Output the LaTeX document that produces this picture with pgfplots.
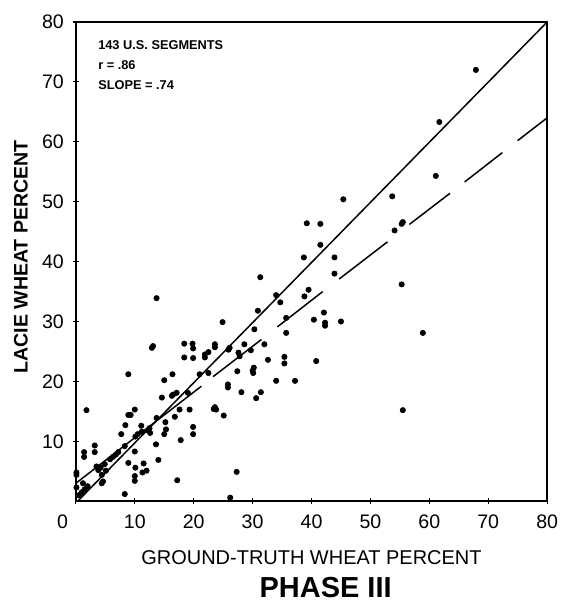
\documentclass[border=0pt]{standalone}
\usepackage{fontspec}
\setmainfont{Liberation Sans}
\usepackage{pgfplots}
\pgfplotsset{compat=1.18}
\begin{document}
\begin{tikzpicture}
\begin{axis}[
  scale only axis, width=236pt, height=240pt,
  xmin=0, xmax=80, ymin=0, ymax=80,
  xtick={0,10,...,80},
  xticklabels={{\makebox[0pt][r]{0\hspace{4pt}}},10,20,30,40,50,60,70,80},
  ytick={10,20,...,80},
  xtick pos=bottom, ytick pos=left,
  tick align=center, major tick length=3pt,
  /pgf/number format/assume math mode=true,
  tick label style={font=\fontsize{9.8}{11}\selectfont},
  xticklabel style={yshift=-2pt},
  yticklabel style={xshift=-1pt},
  axis line style={line width=1pt},
  every tick/.style={black, line width=0.6pt},
  clip=false,
]
% 1:1 line
\addplot[black, line width=0.75pt] coordinates {(0.3,0) (80,80)};
% regression line (broken dashes)
\addplot[black, line width=0.75pt] coordinates {(0,3.0) (21.3,19.2)};
\addplot[black, line width=0.75pt] coordinates {(23.3,20.8) (31.5,27.0)};
\addplot[black, line width=0.75pt] coordinates {(34.2,29.1) (41.9,35.0)};
\addplot[black, line width=0.75pt] coordinates {(44.7,37.1) (52.9,43.3)};
\addplot[black, line width=0.75pt] coordinates {(56.6,46.2) (63.5,51.4)};
\addplot[black, line width=0.75pt] coordinates {(66.0,53.3) (72.4,58.2)};
\addplot[black, line width=0.75pt] coordinates {(75.0,60.2) (80,64.0)};
% data points
\addplot[only marks, mark=*, mark size=1.3pt, black] coordinates {
(67.9,72) (61.7,63.3) (61.1,54.3) (53.7,50.9) (45.4,50.4) (39.2,46.4) (41.5,46.3)
(55.3,46.3) (55.5,46.6) (54.1,45.2) (41.5,42.8) (38.7,40.7) (43.9,40.7) (43.9,38)
(31.3,37.4) (39.5,35.3) (38.8,34.2) (55.3,36.2) (58.9,28.1) (55.5,15.2)
(34.0,34.4) (34.7,33.2) (30.9,31.8) (24.9,29.9) (30.3,28.7) (35.7,30.6) (35.7,28.1)
(40.4,30.3) (42.1,31.5) (42.3,29.3) (42.3,29.8) (45,30)
(32.6,23.6) (35.4,24.1) (35.4,23.0) (40.8,23.4) (34,20.1) (37.2,20.1)
(23.6,26.2) (23.6,25.7) (21.9,24.5) (21.9,24.0) (22.5,24.9) (25.9,25.3) (26.1,25.6)
(27.6,24.8) (27.8,24.2) (28.6,26.2) (29.7,25.2) (32,26.2) (27.4,21.7) (30.0,21.8)
(30.1,21.4) (30.2,22.3) (22.5,21.4) (21,21.2) (25.8,19.5) (25.8,19.0) (28.1,18.2)
(31.4,18.2) (30.6,17.2)
(23.4,15.4) (23.6,15.7) (23.8,15.3) (25.1,14.3) (27.3,4.9) (26.2,0.6)
(19.8,26.3) (19.9,25.5) (19.9,23.9) (18.4,26.3) (18.4,24.0) (13.7,33.9) (12.9,25.6)
(13.1,25.9) (8.9,21.2) (16.4,21.2) (15,20.2) (19,18.1)
(14.6,17.3) (16.3,17.6) (16.5,17.8) (17.1,18.1) (17.6,15.3) (19.3,15.3) (16.8,14.1)
(15.2,13.2) (15.3,12.0) (15,11.2) (13.7,13.9) (13.6,9.5) (14,6.9) (17.8,10.2)
(17.2,3.5) (19.9,12.4) (19.9,11.2)
(12.3,11.8) (12.5,12.2) (12.6,11.4) (11.1,12.6) (10.5,11.2) (11.2,11.6) (10,15.3)
(8.9,14.4) (9.3,14.4) (8.4,12.7) (7.7,11.2) (10.1,10.8) (10,8.3) (8.9,6.4)
(10.1,5.6) (10,4.2) (10,3.4) (8.3,1.2) (11.5,6.3) (11.3,4.8) (12,5.1)
(8.3,9.2) (7.2,8.2) (6.8,7.8) (6.3,7.4) (5.8,7.0) (4.9,6.2) (4.2,5.6) (3.8,5.2)
(3.5,5.8) (4.4,4.4) (5.1,5.1) (4.4,3.0) (4.6,3.3)
(3.2,9.3) (3.2,8.2) (1.4,8.2) (1.4,7.4) (1.8,15.2) (0.1,4.8) (0.1,4.4) (0.1,2.3)
(0.5,1) (1,1.5) (1.5,2) (2,2.5) (1.2,3.0)
};
\node[anchor=north west, align=left, font=\fontsize{6.4}{10}\selectfont\bfseries]
  at (axis cs:2.6,78) {143 U.S. SEGMENTS\\r = .86\\SLOPE = .74};
\node[rotate=90, font=\fontsize{9.8}{11}\selectfont\bfseries]
  at ([xshift=-27.5pt]rel axis cs:0,0.51) {LACIE WHEAT PERCENT};
\node[font=\fontsize{10}{12}\selectfont]
  at ([yshift=-28pt]rel axis cs:0.5,0) {GROUND-TRUTH WHEAT PERCENT};
\node[font=\fontsize{14.5}{16}\selectfont\bfseries]
  at ([yshift=-43pt]rel axis cs:0.53,0) {PHASE III};
\coordinate (O) at (rel axis cs:0,0);
\end{axis}
\path (O) ++(-38pt,-51pt) rectangle ++(283pt,302pt);
\end{tikzpicture}
\end{document}
